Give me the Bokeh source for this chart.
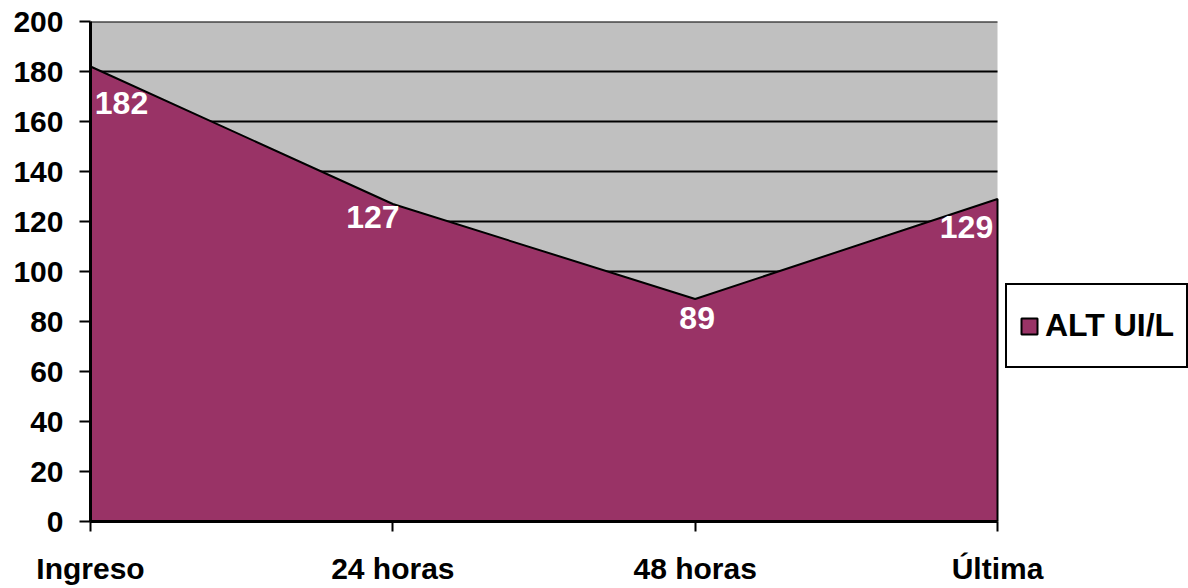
from bokeh.plotting import figure
from bokeh.models import (ColumnDataSource, Range1d, FixedTicker, LabelSet,
                          Legend, LegendItem)
from bokeh.core.properties import value
from bokeh.embed import file_html
from bokeh.resources import INLINE

# ALT (UI/L) measured at each time point
categories = ["Ingreso", "24 horas", "48 horas", "Última"]
alt_values = [182, 127, 89, 129]
series_name = "ALT UI/L"
y_ticks = list(range(0, 201, 20))

FONT = "Liberation Sans"
FILL = "#993366"
GREY = "#C0C0C0"

W, H = 1188, 588
LEFT, TOP, BOTTOM = 90, 21, 67
PLOT_W = 907  # width of the grey plotting area in px

x_pos = list(range(len(categories)))
x_lo, x_hi = x_pos[0], x_pos[-1]
y_lo, y_hi = 0, 200

# the frame runs to the right edge so the legend can sit beside the plot area
x_span = (x_hi - x_lo) * (W - LEFT) / PLOT_W
p = figure(width=W, height=H, output_backend="svg", toolbar_location=None,
           x_range=Range1d(x_lo, x_lo + x_span), y_range=Range1d(y_lo, y_hi),
           min_border_left=LEFT, min_border_right=0, min_border_top=TOP,
           min_border_bottom=BOTTOM)
p.background_fill_color = "white"
p.border_fill_color = "white"
p.outline_line_color = None
p.grid.grid_line_color = None

# grey plotting area
p.quad(left=[x_lo], right=[x_hi], bottom=[y_lo], top=[y_hi],
       fill_color=GREY, line_color=None)

# horizontal gridlines across the plotting area
p.segment(x0=[x_lo] * len(y_ticks), x1=[x_hi] * len(y_ticks),
          y0=y_ticks, y1=y_ticks, line_color="black", line_width=2)

# filled area, closed down to zero at both ends
area_x = [x_lo] + x_pos + [x_hi]
area_y = [0] + alt_values + [0]
area = p.patch(area_x, area_y, fill_color=FILL, line_color="black", line_width=2)

# axes
p.yaxis.ticker = FixedTicker(ticks=y_ticks)
p.xaxis.ticker = FixedTicker(ticks=x_pos)
p.xaxis.bounds = (x_lo, x_hi)
p.xaxis.major_label_overrides = {i: c for i, c in enumerate(categories)}
for ax in (p.xaxis[0], p.yaxis[0]):
    ax.axis_line_color = "black"
    ax.axis_line_width = 3
    ax.major_tick_line_color = "black"
    ax.major_tick_line_width = 2
    ax.major_tick_in = 0
    ax.minor_tick_line_color = None
    ax.major_label_text_font = FONT
    ax.major_label_text_font_style = "bold"
    ax.major_label_text_font_size = "30px"
    ax.major_label_text_color = "black"
p.yaxis.major_tick_out = 11
p.yaxis.major_label_standoff = 16
p.xaxis.major_tick_out = 10
p.xaxis.major_label_standoff = 20

# value labels, set just below each point
label_dx = [31, -20, 2, -31]
label_dy = [-36, -13, -19, -28]
src = ColumnDataSource(dict(x=x_pos, y=alt_values,
                            txt=[str(v) for v in alt_values],
                            dx=label_dx, dy=label_dy))
labels = LabelSet(x="x", y="y", text="txt", source=src,
                  x_offset="dx", y_offset="dy",
                  text_align="center", text_baseline="middle",
                  text_font=value(FONT), text_font_style="bold",
                  text_font_size="32px", text_color="white")
p.add_layout(labels)

legend = Legend(items=[LegendItem(label=series_name, renderers=[area])],
                location=(PLOT_W + 8, 153), orientation="vertical",
                border_line_color="black", border_line_width=2,
                border_line_alpha=1,
                background_fill_color="white", background_fill_alpha=1,
                label_text_font=FONT, label_text_font_style="bold",
                label_text_font_size="32px", label_text_color="black",
                label_standoff=6,
                glyph_width=20, glyph_height=20, label_height=57,
                padding=12, margin=0, spacing=0)
p.add_layout(legend)

open("out.html", "w").write(file_html(p, INLINE))
